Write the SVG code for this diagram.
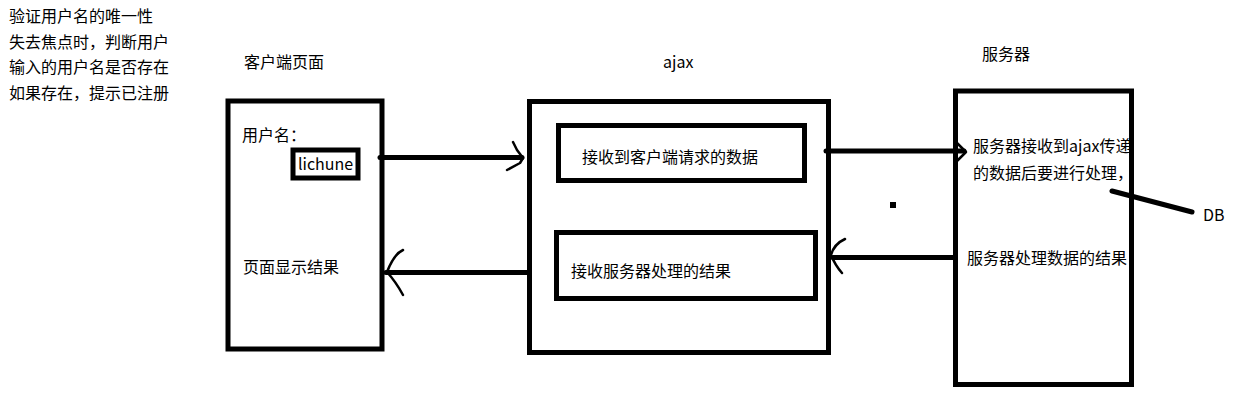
<svg xmlns="http://www.w3.org/2000/svg" width="1241" height="412" viewBox="0 0 1241 412">
<style>
.t{font-family:"Noto Sans CJK SC","Microsoft YaHei","Noto Sans",sans-serif;font-size:16px;fill:#000}
.box{fill:none;stroke:#000;stroke-width:5}
.in{fill:none;stroke:#000;stroke-width:5}
.ln{fill:none;stroke:#000;stroke-width:5;stroke-linecap:round}
.hd{fill:none;stroke:#000;stroke-width:2.5;stroke-linecap:round;stroke-linejoin:round}
</style>
<rect width="1241" height="412" fill="#fff"/>
<g id="note">
<text class="t" x="9" y="22">验证用户名的唯一性</text>
<text class="t" x="9" y="47.5">失去焦点时，判断用户</text>
<text class="t" x="9" y="73">输入的用户名是否存在</text>
<text class="t" x="9" y="98.5">如果存在，提示已注册</text>
</g>
<g id="client">
<text class="t" x="244" y="68">客户端页面</text>
<rect class="box" x="228" y="101" width="154" height="248"/>
<text class="t" x="242" y="141">用户名：</text>
<g id="input">
<rect class="in" x="293" y="150" width="65" height="28" stroke-width="4"/>
<text class="t" x="298" y="170">lichune</text>
</g>
<text class="t" x="243" y="273">页面显示结果</text>
</g>
<g id="ajax">
<text class="t" x="663" y="68">ajax</text>
<rect class="box" x="529.5" y="101.5" width="299" height="251"/>
<g id="ajax-recv">
<rect class="in" x="558.5" y="125.5" width="246" height="55"/>
<text class="t" x="582" y="163">接收到客户端请求的数据</text>
</g>
<g id="ajax-result">
<rect class="in" x="556.5" y="232.5" width="259" height="66"/>
<text class="t" x="571" y="277">接收服务器处理的结果</text>
</g>
</g>
<g id="server">
<text class="t" x="982" y="60">服务器</text>
<text class="t" x="973" y="152">服务器接收到ajax传递</text>
<text class="t" x="973" y="179">的数据后要进行处理，</text>
<text class="t" x="967" y="264">服务器处理数据的结果</text>
<rect class="box" x="955.5" y="91" width="176" height="293.5"/>
</g>
<g id="db">
<text class="t" x="1203" y="221" font-size="15">DB</text>
</g>
<g id="connectors">
<line class="ln" x1="380" y1="157.5" x2="522" y2="157.5"/>
<polyline class="hd" points="513,142 517,150 523,158 520,163 507,170"/>
<line class="ln" x1="826" y1="151" x2="964" y2="151"/>
<polyline class="hd" points="957,143 966,152 957,161"/>
<line class="ln" x1="833" y1="257.5" x2="953" y2="257.5"/>
<path class="hd" d="M845,239 Q834,244 831,255 Q835,265 842,273"/>
<line class="ln" x1="386" y1="272.5" x2="528" y2="272.5"/>
<path class="hd" d="M403,250 Q394,254 387,272 Q396,282 403,295"/>
<line class="ln" x1="1112" y1="191" x2="1192" y2="212"/>
<rect x="890" y="202" width="6" height="6" fill="#000"/>
</g>
</svg>
